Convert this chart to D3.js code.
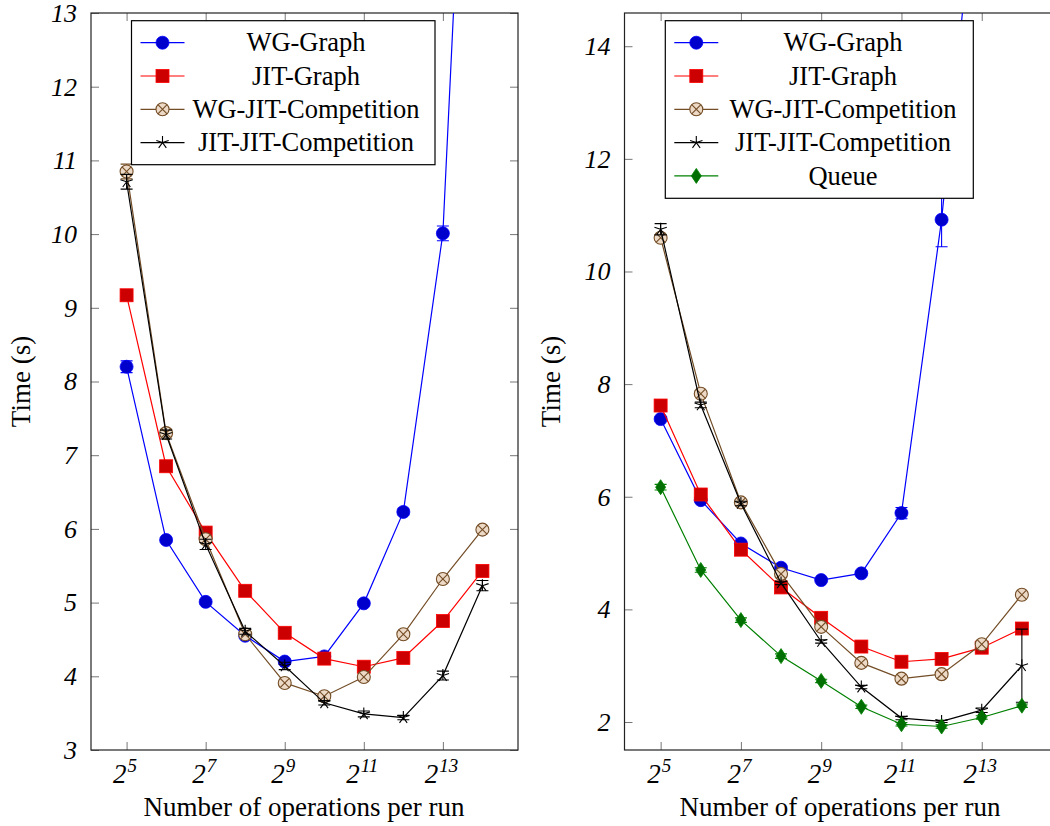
<!DOCTYPE html>
<html><head><meta charset="utf-8">
<script src="https://cdn.jsdelivr.net/npm/d3@7"></script>
<style>body{margin:0;background:#fff}</style>
</head><body><svg id="c" width="1050" height="826" xmlns="http://www.w3.org/2000/svg"></svg>
<script>
// ---------- data ----------
const opsPerRun = [32, 64, 128, 256, 512, 1024, 2048, 4096, 8192, 16384];
const xTickValues = [32, 128, 512, 2048, 8192];
const xTickExponents = ["5", "7", "9", "11", "13"];
const leftYTicks = [3, 4, 5, 6, 7, 8, 9, 10, 11, 12, 13];
const rightYTicks = [2, 4, 6, 8, 10, 12, 14];
const seriesNamesLeft = ["WG-Graph", "JIT-Graph", "WG-JIT-Competition", "JIT-JIT-Competition"];
const seriesNamesRight = ["WG-Graph", "JIT-Graph", "WG-JIT-Competition", "JIT-JIT-Competition", "Queue"];

// left panel
const leftWG     = [8.20, 5.85, 5.01, 4.55, 4.20, 4.27, 4.99, 6.23, 10.01, 21.2];
const leftWGErr  = [0.08, 0.03, 0.03, 0.03, 0.03, 0.03, 0.03, 0.04, 0.10, 0.5];
const leftJIT    = [9.17, 6.85, 5.95, 5.16, 4.59, 4.24, 4.13, 4.25, 4.75, 5.43];
const leftJITErr = [0.03, 0.03, 0.03, 0.03, 0.03, 0.03, 0.03, 0.03, 0.03, 0.03];
const leftWGJIT    = [10.85, 7.30, 5.86, 4.57, 3.91, 3.73, 3.99, 4.57, 5.32, 5.99];
const leftWGJITErr = [0.10, 0.05, 0.04, 0.03, 0.03, 0.03, 0.03, 0.03, 0.03, 0.03];
const leftJJ    = [10.71, 7.28, 5.79, 4.61, 4.14, 3.64, 3.49, 3.44, 4.01, 5.23];
const leftJJErr = [0.10, 0.06, 0.07, 0.04, 0.05, 0.03, 0.04, 0.03, 0.06, 0.07];

// right panel
const rightWG     = [7.38, 5.94, 5.17, 4.74, 4.52, 4.64, 5.71, 10.92, 18.0, 28.0];
const rightWGErr  = [0.04, 0.03, 0.03, 0.03, 0.03, 0.03, 0.10, 0.48, 0.5, 0.5];
const rightJIT    = [7.62, 6.04, 5.06, 4.39, 3.85, 3.34, 3.07, 3.12, 3.32, 3.66];
const rightJITErr = [0.03, 0.03, 0.03, 0.03, 0.03, 0.03, 0.03, 0.03, 0.03, 0.03];
const rightWGJIT    = [10.60, 7.83, 5.90, 4.63, 3.69, 3.05, 2.77, 2.85, 3.38, 4.26];
const rightWGJITErr = [0.05, 0.05, 0.04, 0.03, 0.03, 0.03, 0.03, 0.03, 0.03, 0.03];
const rightJJ    = [10.75, 7.63, 5.88, 4.47, 3.43, 2.62, 2.07, 2.01, 2.21, 3.00];
const rightJJErr = [0.10, 0.05, 0.04, 0.03, 0.03, 0.03, 0.03, 0.02, 0.04, 0.65];
const rightQueue    = [6.17, 4.70, 3.81, 3.17, 2.73, 2.27, 1.96, 1.92, 2.08, 2.29];
const rightQueueErr = [0.05, 0.04, 0.04, 0.04, 0.03, 0.03, 0.03, 0.03, 0.03, 0.03];

// ---------- styles ----------
const styles = {
  "WG-Graph":            {line: "#0000ff", fill: "#0000cc", mark: "circle"},
  "JIT-Graph":           {line: "#ff0000", fill: "#cc0000", mark: "square"},
  "WG-JIT-Competition":  {line: "#734d26", fill: "#ecd9c6", mark: "otimes"},
  "JIT-JIT-Competition": {line: "#000000", fill: "none",    mark: "star"},
  "Queue":               {line: "#008000", fill: "#006e00", mark: "diamond"}
};

const svg = d3.select("#c");
const TICKFONT = "'Liberation Serif', 'Times New Roman', serif";

function drawMark(g, type, st, x, y) {
  if (type === "circle") {
    g.append("circle").attr("cx", x).attr("cy", y).attr("r", 6.5)
      .attr("fill", st.fill).attr("stroke", st.line).attr("stroke-width", 0.8);
  } else if (type === "square") {
    g.append("rect").attr("x", x - 6.5).attr("y", y - 6.5).attr("width", 13).attr("height", 13)
      .attr("fill", st.fill).attr("stroke", st.line).attr("stroke-width", 0.8);
  } else if (type === "otimes") {
    g.append("circle").attr("cx", x).attr("cy", y).attr("r", 6.5)
      .attr("fill", st.fill).attr("stroke", st.line).attr("stroke-width", 1.1);
    const d = 6.5 * Math.SQRT1_2;
    g.append("path").attr("d", `M${x-d},${y-d}L${x+d},${y+d}M${x-d},${y+d}L${x+d},${y-d}`)
      .attr("stroke", st.line).attr("stroke-width", 1.1).attr("fill", "none");
  } else if (type === "star") {
    let p = "";
    for (let k = 0; k < 5; k++) {
      const a = -Math.PI / 2 + k * 2 * Math.PI / 5;
      p += `M${x},${y}L${x + 6.5 * Math.cos(a)},${y + 6.5 * Math.sin(a)}`;
    }
    g.append("path").attr("d", p).attr("stroke", st.line).attr("stroke-width", 1.1).attr("fill", "none");
  } else if (type === "diamond") {
    g.append("path").attr("d", `M${x},${y-7.5}L${x+5},${y}L${x},${y+7.5}L${x-5},${y}Z`)
      .attr("fill", st.fill).attr("stroke", st.line).attr("stroke-width", 0.8);
  }
}

function drawPanel(cfg) {
  const {id, left, right, top, bottom, yDomain, yTicks, series, legend, yLabelX, xLabelX} = cfg;
  const x = d3.scaleLog().base(2).domain([Math.pow(2, 4.1), Math.pow(2, 14.9)]).range([left, right]);
  const y = d3.scaleLinear().domain(yDomain).range([bottom, top]);
  const g = svg.append("g");

  g.append("clipPath").attr("id", "clip" + id).append("rect")
    .attr("x", left).attr("y", top).attr("width", right - left).attr("height", bottom - top);

  // axes with inward ticks on all four sides
  const axB = g.append("g").attr("transform", `translate(0,${bottom})`)
    .call(d3.axisBottom(x).tickValues(xTickValues).tickSizeInner(-8).tickSizeOuter(0).tickPadding(14));
  const axT = g.append("g").attr("transform", `translate(0,${top})`)
    .call(d3.axisTop(x).tickValues(xTickValues).tickSizeInner(-8).tickSizeOuter(0).tickFormat(""));
  const axL = g.append("g").attr("transform", `translate(${left},0)`)
    .call(d3.axisLeft(y).tickValues(yTicks).tickSizeInner(-8).tickSizeOuter(0).tickPadding(14).tickFormat(d3.format("d")));
  const axR = g.append("g").attr("transform", `translate(${right},0)`)
    .call(d3.axisRight(y).tickValues(yTicks).tickSizeInner(-8).tickSizeOuter(0).tickFormat(""));
  [axB, axT, axL, axR].forEach(a => {
    a.select(".domain").remove();
    a.selectAll(".tick line").attr("stroke", "#777").attr("stroke-width", 1);
  });
  axL.selectAll(".tick text").attr("font-family", TICKFONT).attr("font-style", "italic")
    .attr("font-size", 26).attr("fill", "#000");
  axB.selectAll(".tick text").each(function (d, i) {
    const t = d3.select(this);
    t.text(null).attr("font-family", TICKFONT).attr("font-style", "italic").attr("fill", "#000")
      .attr("font-size", 27).attr("dy", "0.71em").attr("x", -2);
    t.append("tspan").text("2");
    t.append("tspan").attr("font-size", 19).attr("dy", -11).attr("dx", 1).text(xTickExponents[i]);
  });

  // frame
  g.append("rect").attr("x", left).attr("y", top).attr("width", right - left).attr("height", bottom - top)
    .attr("fill", "none").attr("stroke", "#222").attr("stroke-width", 1.2);

  // series
  const plot = g.append("g").attr("clip-path", `url(#clip${id})`);
  const line = d3.line().x(d => x(d[0])).y(d => y(d[1]));
  series.forEach(s => {
    const st = styles[s.name];
    const sg = plot.append("g");
    const pts = opsPerRun.map((o, i) => [o, s.values[i], s.err[i]]);
    sg.append("path").attr("d", line(pts)).attr("fill", "none").attr("stroke", st.line).attr("stroke-width", 1.2);
    pts.forEach(p => {
      const px = x(p[0]), y1 = y(p[1] - p[2]), y2 = y(p[1] + p[2]);
      sg.append("path").attr("d", `M${px},${y1}L${px},${y2}M${px-6},${y1}L${px+6},${y1}M${px-6},${y2}L${px+6},${y2}`)
        .attr("stroke", st.line).attr("stroke-width", 1.1).attr("fill", "none");
    });
    pts.forEach(p => drawMark(sg, st.mark, st, x(p[0]), y(p[1])));
  });

  // legend
  const L = legend;
  const lg = g.append("g");
  lg.append("rect").attr("x", L.x).attr("y", L.y).attr("width", L.w).attr("height", L.h)
    .attr("fill", "#fff").attr("stroke", "#000").attr("stroke-width", 1.2);
  series.forEach((s, i) => {
    const st = styles[s.name];
    const ry = L.y + 22 + i * 33.3;
    lg.append("line").attr("x1", L.x + 9).attr("x2", L.x + 53).attr("y1", ry).attr("y2", ry)
      .attr("stroke", st.line).attr("stroke-width", 1.2);
    drawMark(lg, st.mark, st, L.x + 31, ry);
    lg.append("text").attr("x", L.textX).attr("y", ry).attr("dy", "0.33em").attr("text-anchor", "middle")
      .attr("font-family", TICKFONT).attr("font-size", 26.5).text(s.name);
  });

  // axis labels
  g.append("text").attr("transform", `translate(${yLabelX},${(top + bottom) / 2}) rotate(-90)`)
    .attr("text-anchor", "middle").attr("font-family", TICKFONT).attr("font-size", 27).text("Time (s)");
  g.append("text").attr("x", xLabelX).attr("y", 816).attr("text-anchor", "middle")
    .attr("font-family", TICKFONT).attr("font-size", 27).text("Number of operations per run");
}

drawPanel({
  id: "L", left: 91, right: 518, top: 13, bottom: 750, yDomain: [3, 13], yTicks: leftYTicks,
  series: [
    {name: seriesNamesLeft[0], values: leftWG, err: leftWGErr},
    {name: seriesNamesLeft[1], values: leftJIT, err: leftJITErr},
    {name: seriesNamesLeft[2], values: leftWGJIT, err: leftWGJITErr},
    {name: seriesNamesLeft[3], values: leftJJ, err: leftJJErr}
  ],
  legend: {x: 131.5, y: 20.7, w: 303.5, h: 144, textX: 306},
  yLabelX: 30, xLabelX: 304
});
drawPanel({
  id: "R", left: 624.5, right: 1058, top: 13, bottom: 750, yDomain: [1.503, 14.59], yTicks: rightYTicks,
  series: [
    {name: seriesNamesRight[0], values: rightWG, err: rightWGErr},
    {name: seriesNamesRight[1], values: rightJIT, err: rightJITErr},
    {name: seriesNamesRight[2], values: rightWGJIT, err: rightWGJITErr},
    {name: seriesNamesRight[3], values: rightJJ, err: rightJJErr},
    {name: seriesNamesRight[4], values: rightQueue, err: rightQueueErr}
  ],
  legend: {x: 665.3, y: 20.7, w: 308, h: 177.6, textX: 843},
  yLabelX: 560, xLabelX: 840
});
</script></body></html>
